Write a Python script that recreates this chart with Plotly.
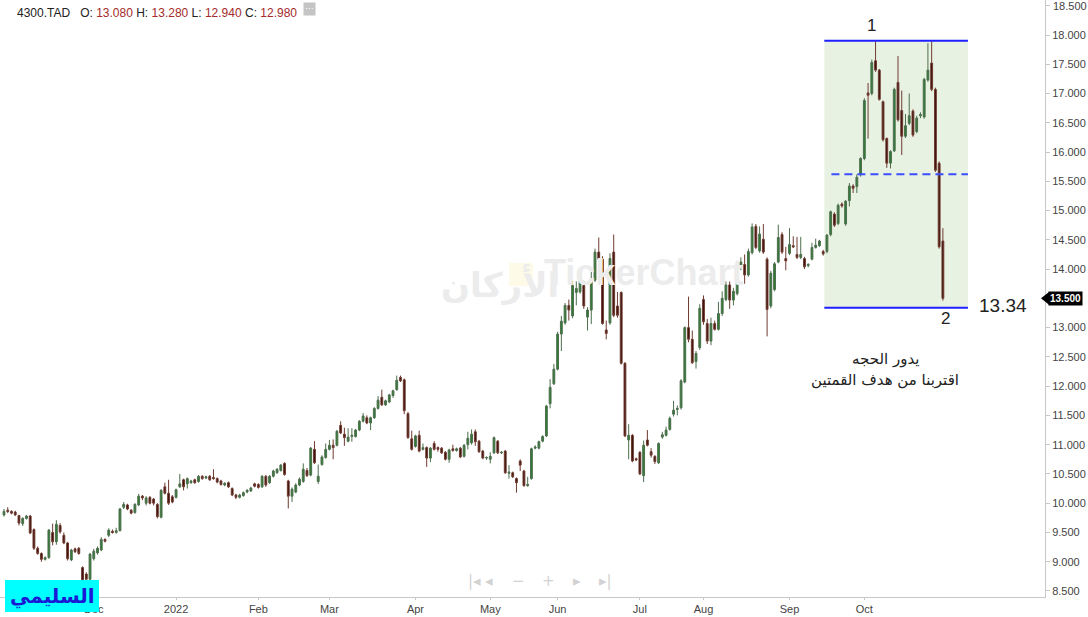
import plotly.graph_objects as go

# ---------------- data ----------------
opens = [9.80,9.88,9.86,9.85,9.79,9.65,9.74,9.78,9.55,9.23,
 9.14,9.04,9.07,9.50,9.34,9.62,9.45,9.32,9.03,9.22,
 9.23,8.90,8.79,8.70,9.05,9.15,9.20,9.38,9.45,9.52,
 9.50,9.53,9.93,9.97,9.88,9.84,9.97,10.12,10.00,10.10,
 10.07,9.98,9.76,10.28,10.17,10.11,10.10,10.28,10.40,10.33,
 10.35,10.40,10.37,10.46,10.43,10.46,10.44,10.42,10.38,10.31,
 10.35,10.25,10.14,10.10,10.13,10.19,10.21,10.33,10.32,10.28,
 10.46,10.35,10.46,10.52,10.56,10.68,10.38,10.12,10.19,10.31,
 10.37,10.56,10.48,10.92,10.37,10.66,10.78,10.92,10.99,10.99,
 11.33,11.18,11.06,11.14,11.14,11.25,11.40,11.46,11.37,11.46,
 11.62,11.81,11.68,11.73,11.84,11.94,12.15,12.11,11.53,11.10,
 10.97,11.16,10.92,10.95,10.77,11.02,10.95,10.94,10.87,10.75,
 10.93,10.90,10.94,10.80,11.00,11.03,11.22,11.06,10.89,10.77,
 10.75,10.86,11.06,10.86,10.89,10.51,10.52,10.42,10.72,10.55,
 10.30,10.42,10.94,10.94,11.06,11.15,11.70,12.04,12.29,12.89,
 13.08,13.38,13.20,13.60,13.61,13.72,13.18,13.30,13.81,14.29,
 14.17,12.96,13.08,14.29,13.37,13.60,12.39,11.08,11.16,10.76,
 10.87,10.47,11.08,10.88,10.80,10.69,11.13,11.16,11.26,11.52,
 11.60,11.63,12.07,13.00,12.80,12.42,12.66,13.48,13.07,12.77,
 13.07,12.97,13.24,13.48,13.73,13.47,13.58,14.02,14.08,13.90,
 14.28,14.73,14.31,14.51,14.17,13.37,13.65,14.12,14.59,14.18,
 14.27,14.40,14.25,14.20,14.18,14.06,14.17,14.37,14.40,14.30,
 14.30,14.59,14.94,14.78,15.11,14.77,15.17,15.42,15.41,15.61,
 15.89,17.01,17.00,17.56,17.40,16.86,16.23,15.81,16.02,17.19,
 16.71,16.27,16.49,16.70,16.35,16.62,16.60,17.23,17.52,17.07,
 15.81,14.48]

highs = [9.90,9.93,9.88,9.87,9.80,9.76,9.80,9.80,9.57,9.26,
 9.16,9.09,9.56,9.65,9.71,9.66,9.50,9.34,9.22,9.24,
 9.25,8.92,8.82,9.15,9.22,9.26,9.42,9.40,9.57,9.55,
 9.58,9.92,10.02,9.99,9.90,10.00,10.16,10.14,10.12,10.12,
 10.09,10.00,10.24,10.35,10.40,10.14,10.25,10.50,10.42,10.44,
 10.40,10.42,10.48,10.48,10.47,10.48,10.58,10.44,10.40,10.36,
 10.37,10.27,10.16,10.16,10.20,10.24,10.28,10.35,10.34,10.48,
 10.48,10.48,10.57,10.60,10.67,10.70,10.40,10.27,10.34,10.44,
 10.68,10.60,10.96,11.06,10.66,10.82,11.02,11.08,11.09,11.25,
 11.40,11.29,11.28,11.28,11.27,11.42,11.54,11.50,11.48,11.64,
 11.83,11.94,11.77,11.87,11.94,12.18,12.18,12.13,11.56,11.24,
 11.17,11.24,11.02,10.97,10.96,11.06,10.97,10.96,10.89,10.93,
 11.00,10.95,10.96,11.01,11.22,11.26,11.26,11.08,10.91,10.80,
 10.87,11.14,11.08,10.89,10.91,10.65,10.54,10.44,10.75,10.57,
 10.45,10.95,10.99,11.07,11.16,11.68,12.12,12.38,12.93,13.20,
 13.42,13.48,13.80,13.79,13.98,13.80,13.35,13.95,14.35,14.54,
 14.22,13.12,14.27,14.59,13.61,13.62,12.41,11.35,11.18,10.78,
 10.89,11.07,11.25,10.94,10.82,11.04,11.22,11.31,11.48,11.75,
 11.67,12.12,13.02,13.53,12.95,12.60,13.40,13.55,13.15,13.17,
 13.12,13.44,13.62,13.79,13.79,13.68,14.12,14.20,14.25,14.35,
 14.78,14.77,14.73,14.77,14.20,13.97,14.12,14.76,14.63,14.38,
 14.70,14.56,14.55,14.55,14.21,14.10,14.45,14.52,14.50,14.33,
 14.60,15.00,14.97,15.12,15.14,15.18,15.47,15.45,15.62,15.91,
 16.92,17.18,17.58,17.89,17.42,16.88,16.25,16.03,17.10,17.64,
 17.05,16.65,17.00,16.73,16.62,16.68,17.27,17.86,17.89,17.10,
 15.84,14.70]

lows = [9.77,9.83,9.81,9.78,9.62,9.61,9.72,9.47,9.20,9.12,
 9.00,9.02,9.05,9.28,9.29,9.48,9.30,9.02,9.01,9.15,
 9.12,8.64,8.62,8.66,9.02,9.12,9.18,9.33,9.42,9.48,
 9.48,9.52,9.90,9.88,9.81,9.82,9.95,10.05,9.96,9.98,
 9.96,9.74,9.74,10.15,9.97,10.00,10.08,10.26,10.22,10.25,
 10.33,10.33,10.35,10.40,10.41,10.38,10.40,10.34,10.30,10.29,
 10.26,10.12,10.07,10.08,10.11,10.17,10.19,10.27,10.25,10.26,
 10.28,10.33,10.44,10.50,10.54,10.47,9.91,10.02,10.17,10.29,
 10.35,10.45,10.46,10.67,10.33,10.64,10.76,10.90,10.75,10.97,
 11.18,10.98,11.04,11.05,11.12,11.23,11.38,11.35,11.25,11.44,
 11.60,11.66,11.66,11.71,11.80,11.92,12.07,11.52,11.10,10.90,
 10.95,10.87,10.90,10.62,10.70,10.90,10.88,10.84,10.73,10.69,
 10.88,10.88,10.77,10.78,10.92,11.00,10.98,10.86,10.75,10.74,
 10.68,10.84,10.84,10.84,10.50,10.42,10.43,10.18,10.55,10.28,
 10.28,10.40,10.92,10.92,11.04,11.13,11.62,12.02,12.27,12.60,
 13.05,13.12,13.16,13.38,13.58,13.32,12.95,13.06,13.78,14.13,
 13.05,12.80,13.05,13.18,13.17,12.37,11.13,10.75,10.70,10.72,
 10.48,10.36,10.97,10.78,10.67,10.67,11.10,11.14,11.24,11.48,
 11.50,11.60,12.05,12.75,12.38,12.30,12.62,13.05,12.72,12.70,
 12.95,12.95,13.20,13.45,13.32,13.38,13.55,13.98,13.75,13.87,
 14.25,14.34,14.28,14.26,12.85,13.33,13.62,14.10,14.26,13.98,
 14.24,14.36,14.17,14.17,14.00,14.03,14.15,14.35,14.38,14.23,
 14.27,14.56,14.72,14.75,15.05,14.74,15.07,15.30,15.30,15.58,
 15.86,16.23,16.97,17.37,16.88,16.18,15.73,15.72,16.00,16.52,
 15.95,16.24,16.46,16.26,16.32,16.58,16.57,17.20,17.04,15.66,
 14.35,13.46]

closes = [9.86,9.86,9.83,9.80,9.66,9.74,9.78,9.49,9.23,9.14,
 9.04,9.07,9.54,9.34,9.64,9.51,9.32,9.05,9.20,9.17,
 9.14,8.68,8.70,9.13,9.18,9.23,9.38,9.35,9.54,9.50,
 9.53,9.90,9.98,9.90,9.83,9.98,10.12,10.09,10.09,10.00,
 10.00,9.77,10.22,10.17,10.00,10.02,10.23,10.33,10.28,10.42,
 10.38,10.35,10.46,10.42,10.45,10.40,10.42,10.36,10.32,10.34,
 10.28,10.14,10.10,10.14,10.18,10.22,10.26,10.29,10.27,10.46,
 10.31,10.46,10.55,10.58,10.65,10.49,10.12,10.24,10.31,10.41,
 10.58,10.47,10.94,10.69,10.46,10.79,10.92,10.99,10.95,11.23,
 11.20,11.12,11.13,11.16,11.25,11.40,11.49,11.37,11.46,11.62,
 11.76,11.68,11.75,11.85,11.92,12.10,12.09,11.58,11.12,10.92,
 11.15,10.89,10.95,10.77,10.94,10.92,10.92,10.86,10.75,10.91,
 10.90,10.93,10.79,10.99,11.11,11.18,11.05,10.88,10.77,10.78,
 10.80,11.12,10.86,10.87,10.52,10.53,10.45,10.35,10.65,10.30,
 10.32,10.93,10.96,11.05,11.14,11.66,11.98,12.29,12.89,13.11,
 13.38,13.30,13.72,13.67,13.90,13.37,13.30,13.80,14.29,14.17,
 13.07,12.90,14.18,13.21,13.21,12.39,11.15,11.16,10.72,10.74,
 10.50,10.99,10.99,10.82,10.71,11.02,11.17,11.25,11.45,11.59,
 11.62,12.09,13.00,12.80,12.40,12.56,13.33,13.10,12.77,13.07,
 12.97,13.24,13.50,13.73,13.47,13.62,14.07,14.12,13.90,14.30,
 14.72,14.37,14.60,14.29,13.31,13.93,14.09,14.54,14.29,14.14,
 14.42,14.38,14.20,14.25,14.04,14.08,14.37,14.41,14.48,14.26,
 14.58,14.98,14.75,15.09,15.08,15.16,15.42,15.38,15.57,15.89,
 16.88,16.97,17.53,17.40,16.90,16.21,15.81,16.01,17.07,16.55,
 16.27,16.45,16.62,16.29,16.58,16.64,17.24,17.40,17.07,15.69,
 14.38,13.50]

# month starts (trading-day index) and their labels
month_idx = [24, 46, 68, 87, 110, 130, 148, 170, 187, 210, 230]
month_labels = ["Dec", "2022", "Feb", "Mar", "Apr", "May", "Jun", "Jul", "Aug", "Sep", "Oct"]

price_ticks = [8.5, 9.0, 9.5, 10.0, 10.5, 11.0, 11.5, 12.0, 12.5, 13.0, 13.5,
               14.0, 14.5, 15.0, 15.5, 16.0, 16.5, 17.0, 17.5, 18.0, 18.5]

# pattern levels
top_level = 17.90
bottom_level = 13.34
mid_level = 15.62
last_price = 13.50

assert len(opens) == len(highs) == len(lows) == len(closes)
N = len(opens)
x = list(range(N))

fig = go.Figure(go.Candlestick(
    x=x, open=opens, high=highs, low=lows, close=closes,
    increasing=dict(line=dict(color="#4e6e4e", width=1), fillcolor="#2e7d32"),
    decreasing=dict(line=dict(color="#6e3b30", width=1), fillcolor="#3a0d08"),
    whiskerwidth=0, hoverinfo="skip", showlegend=False))

W = 1088
PLOT_W = 1045.0
PLOT_H = 597.0
def px(p):
    return p / PLOT_W
def py(p):
    return (PLOT_H - p) / PLOT_H

shapes = []
# shaded pattern box
shapes.append(dict(type="rect", xref="x", yref="y", x0=219.3, x1=257.7,
                   y0=bottom_level, y1=top_level, fillcolor="#e8f2e3",
                   line=dict(width=0), layer="below"))
shapes.append(dict(type="line", xref="x", yref="y", x0=219.3, x1=257.7,
                   y0=top_level, y1=top_level, line=dict(color="#1f1fff", width=2)))
shapes.append(dict(type="line", xref="x", yref="y", x0=219.3, x1=257.7,
                   y0=bottom_level, y1=bottom_level, line=dict(color="#1f1fff", width=2)))
shapes.append(dict(type="line", xref="x", yref="y", x0=221.2, x1=257.7,
                   y0=mid_level, y1=mid_level,
                   line=dict(color="#3b4dff", width=2, dash="8px,5px")))
# last price marker arrow
shapes.append(dict(type="path", xref="paper", yref="y",
                   path=f"M {px(1041)} {last_price} L {px(1049)} {last_price+0.11} L {px(1049)} {last_price-0.11} Z",
                   fillcolor="black", line=dict(width=0)))
# cyan name box
shapes.append(dict(type="rect", xref="paper", yref="paper",
                   x0=px(5), x1=px(99), y0=py(612), y1=py(580),
                   fillcolor="#00ffff", line=dict(width=0), layer="above"))
# watermark logo box
shapes.append(dict(type="rect", xref="paper", yref="paper",
                   x0=px(509), x1=px(533), y0=py(286), y1=py(263),
                   fillcolor="rgba(250,240,190,0.35)", line=dict(width=0), layer="below"))

ann = []
red = "#a52a2a"
header = ("4300.TAD&nbsp;&nbsp; O: <span style='color:%s'>13.080</span> H: <span style='color:%s'>13.280</span>"
          " L: <span style='color:%s'>12.940</span> C: <span style='color:%s'>12.980</span>") % (red, red, red, red)
ann.append(dict(xref="paper", yref="paper", x=px(15), y=py(4), xanchor="left", yanchor="top",
                text=header, showarrow=False,
                font=dict(family="Liberation Sans, Arial, sans-serif", size=12, color="#222")))
ann.append(dict(xref="paper", yref="paper", x=px(303), y=py(2), xanchor="left", yanchor="top",
                text="···", showarrow=False, bgcolor="#c4c4c4", borderpad=1,
                font=dict(family="DejaVu Sans", size=9, color="white")))
# watermark
ann.append(dict(xref="paper", yref="paper", x=px(643), y=py(272), xanchor="center", yanchor="middle",
                text="<b>TickerChart</b>", showarrow=False,
                font=dict(family="Liberation Sans, Arial, sans-serif", size=36, color="#ececec")))
ann.append(dict(xref="paper", yref="paper", x=px(500), y=py(284), xanchor="center", yanchor="middle",
                text="<b>الأركان</b>", showarrow=False,
                font=dict(family="DejaVu Sans", size=34, color="#ececec")))
# pattern labels
ann.append(dict(xref="x", yref="y", x=231.8, y=18.16, text="1", showarrow=False,
                font=dict(family="Liberation Sans, Arial, sans-serif", size=17, color="#222")))
ann.append(dict(xref="x", yref="y", x=251.6, y=13.16, text="2", showarrow=False,
                font=dict(family="Liberation Sans, Arial, sans-serif", size=17, color="#222")))
ann.append(dict(xref="x", yref="y", x=267.1, y=13.38, text=f"{bottom_level:.2f}", showarrow=False,
                font=dict(family="Liberation Sans, Arial, sans-serif", size=19, color="#222")))
ann.append(dict(xref="x", yref="y", x=235.6, y=12.47, text="يدور الحجه", showarrow=False,
                font=dict(family="DejaVu Sans", size=15, color="#222")))
ann.append(dict(xref="x", yref="y", x=235.6, y=12.10, text="اقتربنا من هدف القمتين", showarrow=False,
                font=dict(family="DejaVu Sans", size=15, color="#222")))
# last price label (covers the 13.500 tick)
ann.append(dict(xref="paper", yref="y", x=px(1048), y=last_price, xanchor="left", yanchor="middle",
                text=f"<b>{last_price:.3f}</b>", showarrow=False, bgcolor="black", borderpad=1,
                font=dict(family="Liberation Sans Narrow, Liberation Sans, sans-serif", size=10, color="white")))
# top tick label that sits on the frame edge
ann.append(dict(xref="paper", yref="y", x=px(1051), y=price_ticks[-1], xanchor="left", yanchor="middle",
                text=f"{price_ticks[-1]:.3f}", showarrow=False,
                font=dict(family="Liberation Sans Narrow, Arial Narrow, Liberation Sans, sans-serif", size=11, color="#444")))
# name box text
ann.append(dict(xref="paper", yref="paper", x=px(52), y=py(596), xanchor="center", yanchor="middle",
                text="<b>السليمي</b>", showarrow=False,
                font=dict(family="DejaVu Sans", size=20, color="#1a1ad6")))
# navigation controls
for xp, t in [(474, "|◂"), (489, "◂"), (518, "−"), (548, "+"), (577, "▸"), (605, "▸|")]:
    ann.append(dict(xref="paper", yref="paper", x=px(xp), y=py(581), xanchor="center", yanchor="middle",
                    text=t, showarrow=False,
                    font=dict(family="DejaVu Sans", size=15, color="#d2d2d2")))

axis_font = dict(family="Liberation Sans Narrow, Arial Narrow, Liberation Sans, sans-serif", size=11, color="#444")

tick_text = ["" if (abs(v - last_price) < 1e-9 or v == price_ticks[-1]) else f"{v:.3f}" for v in price_ticks]

fig.update_layout(
    width=W, height=617,
    margin=dict(l=0, r=43, t=0, b=20),
    paper_bgcolor="white", plot_bgcolor="white",
    showlegend=False,
    shapes=shapes, annotations=ann,
    xaxis=dict(range=[-1.07, 278.3], tickmode="array", tickvals=month_idx, ticktext=month_labels,
               showgrid=False, zeroline=False, showline=True, linecolor="#c8c8c8", mirror=True,
               ticks="outside", ticklen=2, tickcolor="#c8c8c8", tickfont=axis_font,
               rangeslider=dict(visible=False), fixedrange=True),
    yaxis=dict(side="right", range=[8.397, 18.598], tickmode="array", tickvals=price_ticks,
               ticktext=tick_text,
               showgrid=False, zeroline=False, showline=True, linecolor="#c8c8c8",
               ticks="outside", ticklen=4, tickcolor="#c8c8c8", tickfont=axis_font, fixedrange=True),
)

fig.write_html("out.html", config={"displayModeBar": False},
               post_script="document.body.style.margin='0';document.body.style.overflow='hidden';")
